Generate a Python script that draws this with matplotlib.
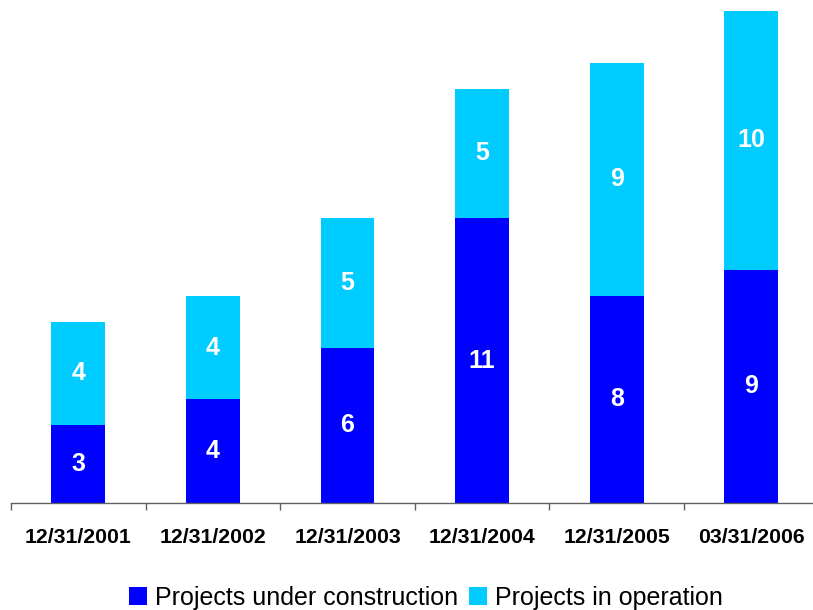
import numpy as np
import matplotlib.pyplot as plt

plt.rcParams['font.family'] = ['Liberation Sans', 'DejaVu Sans']

# data
dates = ['12/31/2001', '12/31/2002', '12/31/2003', '12/31/2004', '12/31/2005', '03/31/2006']
construction = [3, 4, 6, 11, 8, 9]
operation = [4, 4, 5, 5, 9, 10]

dark_blue = '#0000FF'
light_blue = '#00CCFF'

fig = plt.figure(figsize=(8.13, 6.1), dpi=100)
ax = fig.add_axes([11 / 813, 107 / 610, 807.6 / 813, 503 / 610])

x = np.arange(len(dates))
b1 = ax.bar(x, construction, width=0.4, color=dark_blue, label='Projects under construction')
b2 = ax.bar(x, operation, width=0.4, bottom=construction, color=light_blue, label='Projects in operation')

ax.bar_label(b1, label_type='center', color='white', fontsize=18, fontweight='bold')
ax.bar_label(b2, label_type='center', color='white', fontsize=18, fontweight='bold')

ax.set_xlim(-0.5, len(dates) - 0.5)
ax.set_ylim(0, 19.42)

ax.set_xticks(x)
ax.set_xticklabels(dates, fontsize=15.3, fontweight='bold')
ax.tick_params(axis='x', which='major', length=0, pad=18)
ax.set_xticks(np.arange(len(dates) + 1) - 0.5, minor=True)
ax.tick_params(axis='x', which='minor', length=5, width=1, color='#606060', direction='out')
ax.set_yticks([])

for s in ['left', 'top', 'right']:
    ax.spines[s].set_visible(False)
ax.spines['bottom'].set_color('#606060')
ax.spines['bottom'].set_linewidth(1)

fig.legend(loc='center', bbox_to_anchor=(425.5 / 813, 1 - 598 / 610), ncol=2, frameon=False,
           fontsize=18, handlelength=0.72, handleheight=0.72, handletextpad=0.32,
           columnspacing=0.44, borderpad=0, borderaxespad=0)

fig.savefig('out.png', dpi=100)
